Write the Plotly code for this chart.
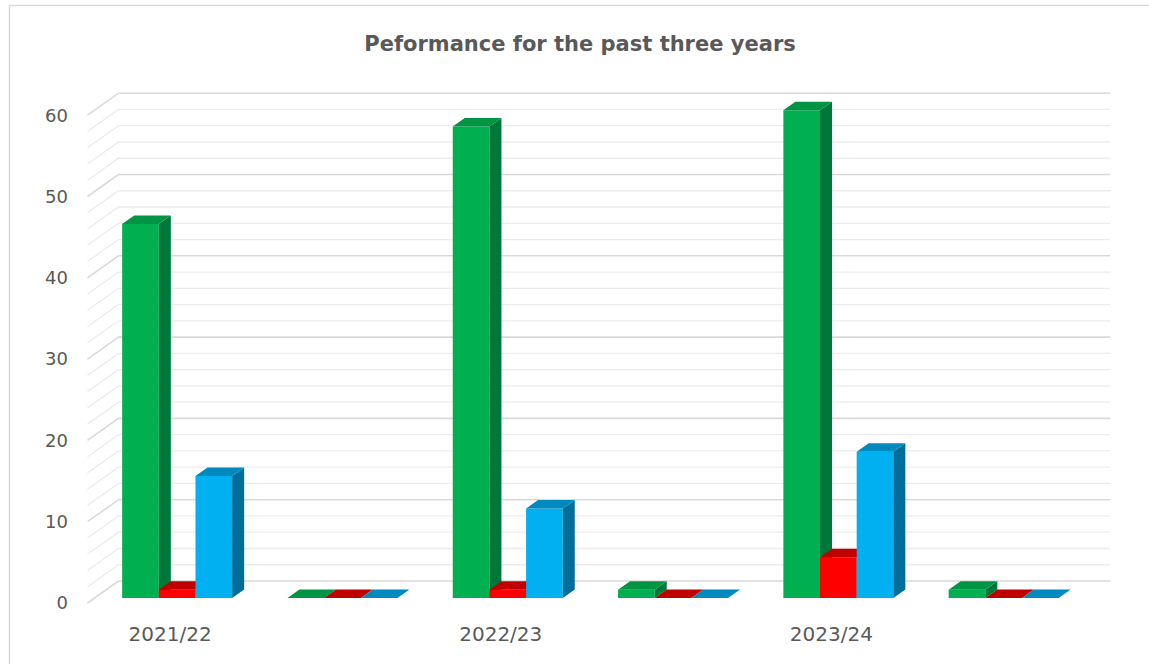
import plotly.graph_objects as go

# ---------------- data ----------------
categories = ["2021/22", "", "2022/23", "", "2023/24", ""]
green_vals = [46, 0, 58, 1, 60, 1]
red_vals = [1, 0, 1, 0, 5, 0]
blue_vals = [15, 0, 11, 0, 18, 0]
series_names = ["Series 1", "Series 2", "Series 3"]
y_ticks = [0, 10, 20, 30, 40, 50, 60]
minor_step = 2
title_text = "Peformance for the past three years"

# ---------------- styling / geometry ----------------
W, H = 1149, 664
U = 165.3          # px per category
S = 8.13           # px per value unit
ORIGIN_X = 87.5    # px of category edge -0.5 on the front (label) plane
ORIGIN_Y = 603.0   # px of value 0 on the front (label) plane
L, R, T, B = 72, 1124, 70, 620

x_lo = (L - ORIGIN_X) / U - 0.5
x_hi = (R - ORIGIN_X) / U - 0.5
y_lo = (ORIGIN_Y - B) / S
y_hi = (ORIGIN_Y - T) / S

WALL_DX, WALL_DY = 31 / U, 22 / S        # depth of the floor (front -> back wall)
BAR_SHIFT_X, BAR_SHIFT_Y = 7 / U, 5 / S  # bars sit a bit behind the front edge
BAR_DX, BAR_DY = 12 / U, 8.5 / S         # depth of each bar
GROUP_W = 110 / U

face_colors = [
    dict(front="#00B050", side="#00773A", top="#009443"),
    dict(front="#FF0000", side="#A30000", top="#C00000"),
    dict(front="#00B0F0", side="#006E98", top="#0089BE"),
]
all_vals = [green_vals, red_vals, blue_vals]
idx = list(range(len(categories)))
n = len(categories)

fig = go.Figure()

# ---------------- back wall / side wall gridlines ----------------
maj_x, maj_y, min_x, min_y = [], [], [], []
for v in range(0, max(y_ticks) + 1, minor_step):
    xs = [-0.5, -0.5 + WALL_DX, n - 0.5 + WALL_DX, None]
    ys = [v, v + WALL_DY, v + WALL_DY, None]
    if v in y_ticks:
        maj_x += xs; maj_y += ys
    else:
        min_x += xs; min_y += ys
fig.add_trace(go.Scatter(x=min_x, y=min_y, mode="lines", line=dict(color="#EBEBEB", width=1.3),
                         hoverinfo="skip", showlegend=False, xaxis="x", yaxis="y"))
fig.add_trace(go.Scatter(x=maj_x, y=maj_y, mode="lines", line=dict(color="#D9D9D9", width=1.6),
                         hoverinfo="skip", showlegend=False, xaxis="x", yaxis="y"))

# ---------------- 3D bars (one overlay subplot per series, painter's order) ----------------
w = GROUP_W / 3
for k, vals in enumerate(all_vals):
    xa, ya = f"x{k + 2}", f"y{k + 2}"
    c = face_colors[k]
    off = -GROUP_W / 2 + k * w
    fig.add_trace(go.Bar(x=idx, y=vals, width=w, offset=off, name=series_names[k],
                         marker=dict(color=c["front"], line=dict(width=0)),
                         xaxis=xa, yaxis=ya, showlegend=False))
    sx, sy, tx, ty = [], [], [], []
    for i, h in enumerate(vals):
        xl = i + off
        xr = xl + w
        sx += [xr, xr + BAR_DX, xr + BAR_DX, xr, xr, None]
        sy += [0, BAR_DY, h + BAR_DY, h, 0, None]
        tx += [xl, xr, xr + BAR_DX, xl + BAR_DX, xl, None]
        ty += [h, h, h + BAR_DY, h + BAR_DY, h, None]
    fig.add_trace(go.Scatter(x=sx, y=sy, mode="lines", fill="toself", fillcolor=c["side"],
                             line=dict(width=0, color=c["side"]), hoverinfo="skip",
                             showlegend=False, xaxis=xa, yaxis=ya))
    fig.add_trace(go.Scatter(x=tx, y=ty, mode="lines", fill="toself", fillcolor=c["top"],
                             line=dict(width=0, color=c["top"]), hoverinfo="skip",
                             showlegend=False, xaxis=xa, yaxis=ya))

ytick_font = dict(family="DejaVu Sans", size=18, color="#595959")
xtick_font = dict(family="DejaVu Sans", size=20, color="#595959")
layout = dict(
    width=W, height=H,
    margin=dict(l=L, r=W - R, t=T, b=H - B, pad=0),
    paper_bgcolor="white", plot_bgcolor="white",
    barmode="overlay",
    showlegend=False,
    title=dict(text=f"<b>{title_text}</b>", x=580 / W, xanchor="center", y=1 - 44 / H, yanchor="middle",
               xref="container", yref="container",
               font=dict(family="DejaVu Sans", size=21, color="#595959")),
    xaxis=dict(range=[x_lo, x_hi], tickvals=idx, ticktext=categories, showgrid=False, zeroline=False,
               showline=False, ticks="", tickfont=xtick_font, fixedrange=True),
    yaxis=dict(range=[y_lo, y_hi], tickvals=y_ticks, showgrid=False, zeroline=False, showline=False,
               ticks="", tickfont=ytick_font, fixedrange=True, ticklabelstandoff=3),
    shapes=[dict(type="rect", xref="paper", yref="paper",
                 x0=(9.5 - L) / (R - L), x1=(1152 - L) / (R - L),
                 y0=(B - 668) / (B - T), y1=(B - 5.5) / (B - T),
                 line=dict(color="#D9D9D9", width=1.5), fillcolor="rgba(0,0,0,0)", layer="below")],
)
for k in range(3):
    layout[f"xaxis{k + 2}"] = dict(range=[x_lo - BAR_SHIFT_X, x_hi - BAR_SHIFT_X], overlaying="x",
                                   visible=False, fixedrange=True, anchor=f"y{k + 2}")
    layout[f"yaxis{k + 2}"] = dict(range=[y_lo - BAR_SHIFT_Y, y_hi - BAR_SHIFT_Y], overlaying="y",
                                   visible=False, fixedrange=True, anchor=f"x{k + 2}")
fig.update_layout(**layout)

fig.write_html("out.html", config={"displayModeBar": False})
